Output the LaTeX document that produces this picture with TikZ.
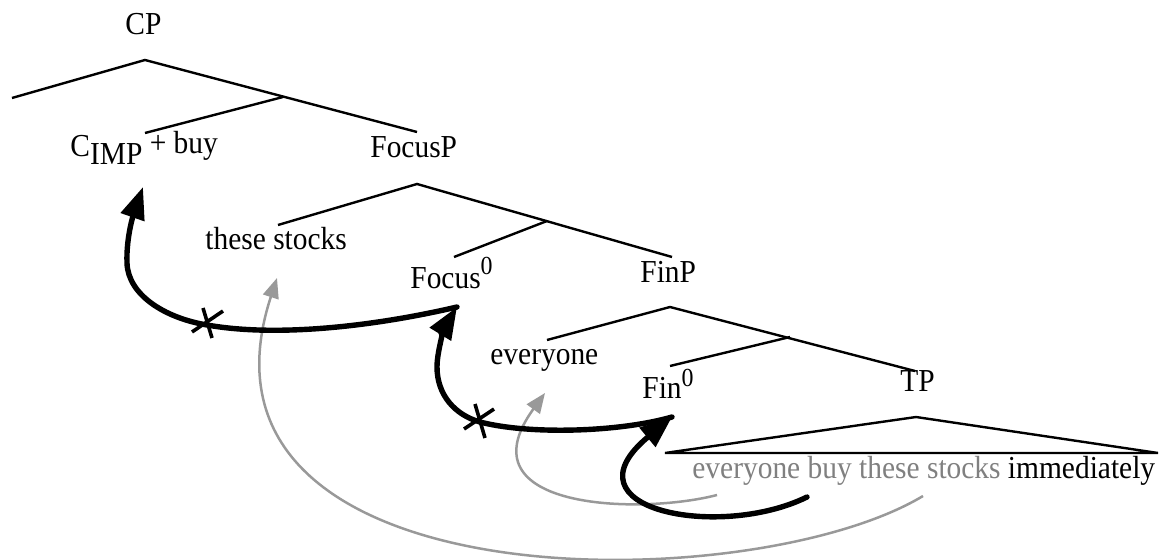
\documentclass[tikz,border=0pt]{standalone}
\usepackage{fontspec}
\setmainfont[FakeStretch=0.92]{Liberation Serif}
\usetikzlibrary{arrows.meta}
\definecolor{arrgray}{HTML}{999999}
\definecolor{txtgray}{HTML}{808080}
\begin{document}
\begin{tikzpicture}[x=0.5pt,y=-0.5pt,
  lbl/.style={anchor=base west, inner sep=0pt, font=\fontsize{16}{19}\selectfont},
  branch/.style={line width=1.2pt, line join=miter},
  mover/.style={line width=2.7pt, line cap=round, -{Triangle[length=16pt,width=12pt]}},
  gmover/.style={line width=1.25pt, draw=arrgray, -{Triangle[length=10pt,width=8pt,fill=arrgray]}},
  crossmark/.style={line width=1.8pt}]
\useasboundingbox (0,0) rectangle (1160,560);
% labels
\node[lbl] (cp) at (125,35) {CP};
\node[lbl] (cimp) at (70,157) {C\raisebox{-4pt}{IMP} \raisebox{1.5pt}{+ buy}};
\node[lbl] (focp) at (370,158) {FocusP};
\node[lbl] (ts) at (205,250) {these stocks};
\node[lbl] (foc0) at (410,289) {Focus\raisebox{7pt}{\fontsize{13}{13}\selectfont 0}};
\node[lbl] (finp) at (640,283) {FinP};
\node[lbl] (ev) at (490,365) {everyone};
\node[lbl] (fin0) at (642,399) {Fin\raisebox{6pt}{\fontsize{13}{13}\selectfont 0}};
\node[lbl] (tp) at (900,392) {TP};
\node[lbl] (str) at (692,478) {\textcolor{txtgray}{everyone buy these stocks} immediately};
% tree coordinates
\coordinate (cpA) at (145,60);  \coordinate (cpL) at (12,98);
\coordinate (cpR) at (417,132); \coordinate (cpM) at (283,97);
\coordinate (cpC) at (145,133);
\coordinate (fA) at (417,184);  \coordinate (fL) at (278,225);
\coordinate (fR) at (672,257);  \coordinate (fM) at (547,221);
\coordinate (fC) at (454,257);
\coordinate (nA) at (670,307);  \coordinate (nL) at (547,340);
\coordinate (nR) at (915,371);  \coordinate (nM) at (790,337);
\coordinate (nC) at (670,366);
\coordinate (tA) at (916,417);  \coordinate (tL) at (665,453);
\coordinate (tR) at (1158,453);
% branches
\draw[branch] (cpL) -- (cpA) -- (cpR); \draw[branch] (cpM) -- (cpC);
\draw[branch] (fL) -- (fA) -- (fR);    \draw[branch] (fM) -- (fC);
\draw[branch] (nL) -- (nA) -- (nR);    \draw[branch] (nM) -- (nC);
\draw[branch] (tL) -- (tA) -- (tR) -- cycle;
% movement endpoints
\coordinate (cimpT) at (143,187);
\coordinate (foc0P) at (457,307);
\coordinate (fin0P) at (672,417);
\coordinate (tsT) at (277,278);
\coordinate (evT) at (545,393);
\coordinate (sEv) at (717,495);
\coordinate (sBuy) at (807,497);
\coordinate (sStocks) at (923,496);
\coordinate (x1) at (207,325);
\coordinate (x2) at (480,422);
% gray movements
\draw[gmover] (sStocks) .. controls (750,600) and (170,605) .. (tsT);
\draw[gmover] (sEv) .. controls (640,515) and (460,510) .. (evT);
% black movements
\draw[mover] (foc0P) .. controls (380,325) and (280,338) .. (x1)
   .. controls (165,318) and (128,295) .. (127,263)
   .. controls (126,235) and (135,210) .. (cimpT);
\draw[mover] (fin0P) .. controls (620,432) and (530,435) .. (x2)
   .. controls (455,415) and (437,395) .. (437,367)
   .. controls (437,350) and (446,325) .. (foc0P);
\draw[mover] (sBuy) .. controls (720,540) and (560,510) .. (fin0P);
% crosses
\draw[crossmark] ([shift={(-15,7)}]x1) -- ([shift={(16,-14)}]x1)
                 ([shift={(-4,-17)}]x1) -- ([shift={(5,13)}]x1);
\draw[crossmark] ([shift={(-16,7)}]x2) -- ([shift={(14,-13)}]x2)
                 ([shift={(-5,-18)}]x2) -- ([shift={(5,16)}]x2);
\end{tikzpicture}
\end{document}
